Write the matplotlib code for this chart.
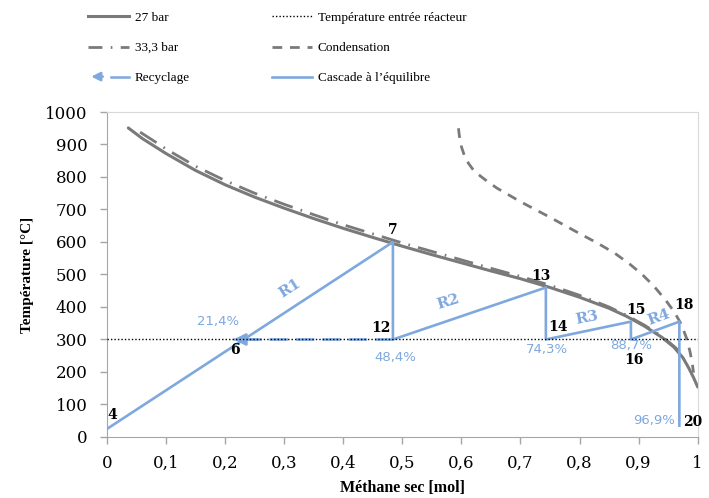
import matplotlib
matplotlib.use("Agg")
import matplotlib.pyplot as plt
from matplotlib.lines import Line2D
from matplotlib.legend_handler import HandlerBase
from matplotlib.patches import FancyArrowPatch

# --- data ---
x_27 = [0.036, 0.06, 0.10, 0.15, 0.20, 0.25, 0.30, 0.35, 0.40, 0.45, 0.50,
        0.55, 0.60, 0.65, 0.70, 0.75, 0.80, 0.85, 0.88, 0.91, 0.94, 0.96,
        0.975, 0.985, 0.993, 1.0]
y_27 = [951, 918, 872, 820, 776, 738, 704, 672, 642, 614, 587,
        561, 536, 511, 487, 460, 430, 396, 371, 341, 306, 276,
        244, 212, 183, 154]

x_33 = [0.056, 0.08, 0.10, 0.15, 0.20, 0.25, 0.30, 0.35, 0.40, 0.45, 0.50,
        0.55, 0.60, 0.65, 0.70, 0.75, 0.80, 0.85, 0.88, 0.91, 0.94, 0.96,
        0.97]
y_33 = [938, 910, 886, 833, 789, 750, 716, 684, 653, 625, 597,
        571, 545, 519, 494, 467, 436, 400, 374, 344, 309, 279,
        262]

x_cond = [0.595, 0.597, 0.600, 0.605, 0.612, 0.620, 0.632, 0.645, 0.660,
          0.680, 0.700, 0.725, 0.750, 0.775, 0.800, 0.830, 0.860, 0.885,
          0.905, 0.925, 0.945, 0.960, 0.972, 0.981, 0.987, 0.991, 0.993]
y_cond = [950, 920, 893, 866, 842, 822, 803, 785, 766,
          745, 724, 700, 676, 651, 626, 597, 565, 532,
          502, 466, 423, 386, 348, 305, 263, 225, 198]

t_inlet = 300

# cascade 4 -> 7 -> 12 -> 13 -> 14 -> 15 -> 16 -> 18 -> 20
x_casc = [0.0, 0.484, 0.484, 0.743, 0.743, 0.887, 0.887, 0.969, 0.969]
y_casc = [25, 600, 300, 460, 300, 355, 300, 355, 35]

# recycle 12 -> 6
x_rec = [0.484, 0.214]
y_rec = [300, 300]

pt_names = ["4", "6", "7", "12", "13", "14", "15", "16", "18", "20"]
pt_x = [0.009, 0.217, 0.483, 0.463, 0.734, 0.764, 0.895, 0.892, 0.976, 0.992]
pt_y = [68, 268, 637, 335, 495, 338, 391, 237, 406, 46]

pct_labels = ["21,4%", "48,4%", "74,3%", "88,7%", "96,9%"]
pct_x = [0.188, 0.488, 0.745, 0.887, 0.926]
pct_y = [354, 246, 268, 283, 52]

r_labels = ["R1", "R2", "R3", "R4"]
r_x = [0.31, 0.578, 0.813, 0.934]
r_y = [458, 415, 366, 369]
r_rot = [33, 17, 11, 20]

BLUE = "#7FA8DE"
GRAY = "#7A7A7A"
SERIF = "DejaVu Serif"
LSERIF = "Liberation Serif"


class ArrowHandler(HandlerBase):
    def create_artists(self, legend, orig_handle, xdescent, ydescent,
                       width, height, fontsize, trans):
        y = height / 2 - ydescent
        x0 = -xdescent
        line = Line2D([x0 + 0.55 * width, x0 + width], [y, y], color=BLUE,
                      lw=1.8, transform=trans)
        arr = FancyArrowPatch((x0 + 0.42 * width, y), (x0, y),
                              arrowstyle="-|>", mutation_scale=13,
                              color=BLUE, lw=1.8, transform=trans)
        return [line, arr]


fig = plt.figure(figsize=(7.09, 4.98), dpi=100)
ax = fig.add_axes([0.151, 0.1225, 0.833, 0.6526])

ax.plot(x_27, y_27, color=GRAY, lw=2.2, solid_capstyle="round", zorder=3)
ax.plot(x_33, y_33, color=GRAY, lw=2.0, dashes=(7, 3, 0.6, 3), zorder=3)
ax.plot(x_cond, y_cond, color=GRAY, lw=2.0, dashes=(3.5, 2.8), zorder=3)
ax.plot(x_casc, y_casc, color=BLUE, lw=1.9, zorder=4)
ax.plot(x_rec, y_rec, color=BLUE, lw=1.9, dashes=(7, 3), zorder=4)
ax.annotate("", xy=(x_rec[1], y_rec[1]), xytext=(x_rec[1] + 0.04, y_rec[1]),
            arrowprops=dict(arrowstyle="-|>", color=BLUE, lw=1.9,
                            mutation_scale=18, shrinkA=0, shrinkB=0),
            zorder=5)
ax.axhline(t_inlet, color="black", lw=1.0, ls=(0, (1, 1.5)), zorder=6)

for name, x, y in zip(pt_names, pt_x, pt_y):
    ax.text(x, y, name, ha="center", va="center", fontsize=10,
            fontweight="bold", family=SERIF, color="black", zorder=7)
for lab, x, y in zip(pct_labels, pct_x, pct_y):
    ax.text(x, y, lab, ha="center", va="center", fontsize=9.5,
            family="DejaVu Sans", color=BLUE, zorder=7)
for lab, x, y, r in zip(r_labels, r_x, r_y, r_rot):
    ax.text(x, y, lab, ha="center", va="center", fontsize=11,
            fontweight="bold", family=SERIF, color=BLUE, rotation=r,
            rotation_mode="anchor", zorder=7)

ax.set_xlim(0, 1)
ax.set_ylim(0, 1000)
ax.set_xticks([i / 10 for i in range(11)])
ax.set_xticklabels(["0"] + [f"0,{i}" for i in range(1, 10)] + ["1"])
ax.set_yticks(range(0, 1001, 100))
for lab in ax.get_xticklabels() + ax.get_yticklabels():
    lab.set_family(SERIF)
    lab.set_fontsize(12)
ax.tick_params(axis="both", direction="out", length=5, color="#A6A6A6",
               width=1)
ax.tick_params(axis="x", pad=8)
ax.tick_params(axis="y", pad=9)
for s in ("left", "bottom"):
    ax.spines[s].set_color("#A6A6A6")
for s in ("top", "right"):
    ax.spines[s].set_color("#D9D9D9")

ax.set_xlabel("Méthane sec [mol]", family=LSERIF, fontweight="bold",
              fontsize=11.5, labelpad=6)
ax.set_ylabel("Température [°C]", family=LSERIF, fontweight="bold",
              fontsize=11, labelpad=8)

h27 = Line2D([], [], color=GRAY, lw=2.2)
h33 = Line2D([], [], color=GRAY, lw=2.0, dashes=(5, 3, 0.6, 3))
hrec = Line2D([], [], color=BLUE)
htin = Line2D([], [], color="black", lw=1.0, ls=(0, (1, 1.5)))
hcond = Line2D([], [], color=GRAY, lw=2.0, dashes=(3.5, 2.8))
hcasc = Line2D([], [], color=BLUE, lw=1.9)
fig.legend([h27, h33, hrec, htin, hcond, hcasc],
           ["27 bar", "33,3 bar", "Recyclage",
            "Température entrée réacteur", "Condensation",
            "Cascade à l’équilibre"],
           handler_map={hrec: ArrowHandler()},
           loc="upper left", bbox_to_anchor=(0.108, 1.0), ncol=2,
           frameon=False, prop={"family": LSERIF, "size": 9.5},
           handlelength=3.1, handletextpad=0.4, labelspacing=1.35,
           columnspacing=6.2)

fig.savefig("out.png", dpi=100)
